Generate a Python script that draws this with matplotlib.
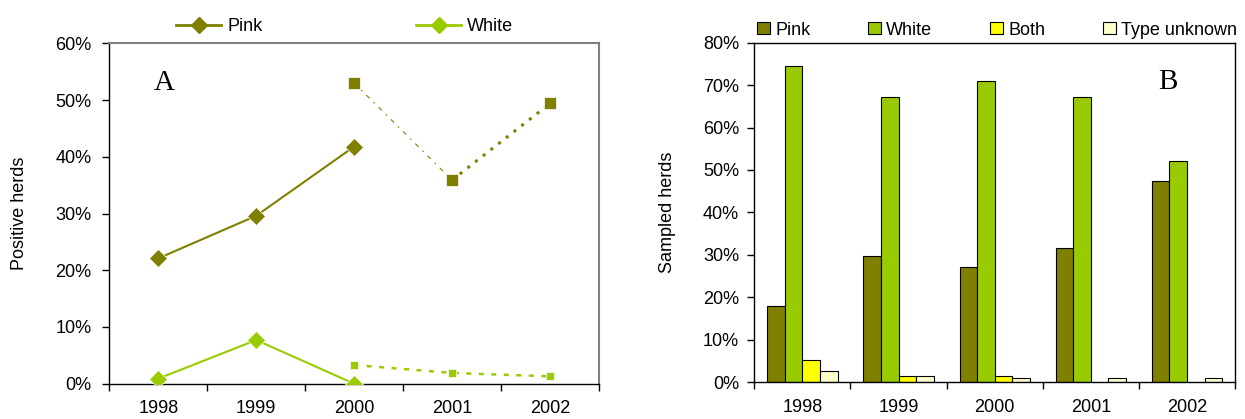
import numpy as np
import matplotlib
matplotlib.use('Agg')
import matplotlib.pyplot as plt
from matplotlib.lines import Line2D
from matplotlib.patches import Patch

plt.rcParams['font.family'] = ['Liberation Sans', 'DejaVu Sans']
plt.rcParams['font.size'] = 13

years = ['1998', '1999', '2000', '2001', '2002']

# panel A: positive herds, old method (diamonds) and new method (squares)
pink_old = [22.1, 29.6, 41.8]
white_old = [0.9, 7.7, 0.0]
pink_new = [53.0, 35.9, 49.4]
white_new = [3.3, 1.9, 1.3]

# panel B: sampled herds by type
b_pink = [17.9, 29.6, 27.0, 31.7, 47.5]
b_white = [74.4, 67.3, 70.9, 67.3, 52.0]
b_both = [5.1, 1.5, 1.5, 0.0, 0.0]
b_unknown = [2.6, 1.5, 0.9, 0.9, 0.9]

OLIVE = '#808000'
GREEN = '#99CC00'
YELLOW = '#FFFF00'
CREAM = '#FFFFCC'

fig = plt.figure(figsize=(12.45, 4.19), dpi=100)
axA = fig.add_axes([0.0878, 0.0842, 0.3933, 0.8124])
axB = fig.add_axes([0.6059, 0.0883, 0.3861, 0.8098])

x = np.arange(len(years))


def setup_axis(ax, ymax, ystep, ypad, label):
	ax.set_xlim(-0.5, len(years) - 0.5)
	ax.set_ylim(0, ymax)
	ax.set_yticks(np.arange(0, ymax + 1, ystep))
	ax.set_yticklabels(['%d%%' % v for v in np.arange(0, ymax + 1, ystep)])
	ax.set_xticks(x)
	ax.set_xticklabels(years)
	ax.set_xticks(np.arange(-0.5, len(years)), minor=True)
	ax.tick_params(axis='x', which='major', length=0, pad=12)
	ax.tick_params(axis='x', which='minor', length=5, direction='out', width=1)
	ax.tick_params(axis='y', length=5, width=1, pad=ypad)
	ax.set_ylabel(label)
	for s in ax.spines.values():
		s.set_linewidth(1)
#end setup_axis


# ---- panel A ----
setup_axis(axA, 60, 10, 8, 'Positive herds')
axA.yaxis.set_label_coords(-0.166, 0.5)
axA.spines['top'].set_color('#808080')
axA.spines['right'].set_color('#808080')
axA.spines['top'].set_linewidth(1.5)
axA.spines['right'].set_linewidth(1.5)

axA.plot(x[:3], pink_old, '-', color=OLIVE, lw=1.5, marker='D', ms=9,
	mec='white', mew=0.5, zorder=3)
axA.plot(x[:3], white_old, '-', color=GREEN, lw=1.5, marker='D', ms=9,
	mec='white', mew=0.5, zorder=3)

# new method lines, drawn segment by segment
axA.plot(x[2:4], pink_new[:2], color=OLIVE, lw=0.8, ls=(0, (4, 5, 1.5, 5)), zorder=2)
axA.plot(x[3:5], pink_new[1:], color=OLIVE, lw=2.2, ls=(0, (1, 2.2)), zorder=2)
axA.plot(x[2:5], pink_new, ls='none', marker='s', ms=9, color=OLIVE,
	mec='white', mew=0.5, zorder=3)
axA.plot(x[2:5], white_new, color=GREEN, lw=1.8, ls=(0, (2, 3)), marker='s', ms=6,
	mec='white', mew=0.5, zorder=3)

axA.text(0.091, 0.845, 'A', transform=axA.transAxes, fontsize=21,
	family=['Liberation Serif', 'DejaVu Serif'], va='bottom')

legA = [Line2D([], [], color=OLIVE, lw=2, marker='D', ms=8),
	Line2D([], [], color=GREEN, lw=2, marker='D', ms=8)]
fig.legend(legA, ['Pink', 'White'], loc='center', bbox_to_anchor=(0.277, 0.936),
	ncol=2, frameon=False, handlelength=2.5, handletextpad=0.33, columnspacing=8.5,
	borderpad=0)

# ---- panel B ----
setup_axis(axB, 80, 10, 6, 'Sampled herds')
axB.yaxis.set_label_coords(-0.163, 0.5)

w = 0.183
series = [(b_pink, OLIVE), (b_white, GREEN), (b_both, YELLOW), (b_unknown, CREAM)]
for k, (vals, col) in enumerate(series):
	offs = (k - 1.5) * w
	vals = np.array(vals)
	keep = vals > 0
	axB.bar(x[keep] + offs, vals[keep], width=w, color=col, edgecolor='black', lw=0.8, zorder=2)
#end for

axB.text(0.84, 0.845, 'B', transform=axB.transAxes, fontsize=21,
	family=['Liberation Serif', 'DejaVu Serif'], va='bottom')

legB = [Patch(facecolor=c, edgecolor='black', lw=0.8) for c in (OLIVE, GREEN, YELLOW, CREAM)]
fig.legend(legB, ['Pink', 'White', 'Both', 'Type unknown'], loc='center',
	bbox_to_anchor=(0.801, 0.928), ncol=4, frameon=False, handlelength=0.72,
	handleheight=0.66, handletextpad=0.28, columnspacing=3.2, borderpad=0)

fig.savefig('out.png', dpi=100)
